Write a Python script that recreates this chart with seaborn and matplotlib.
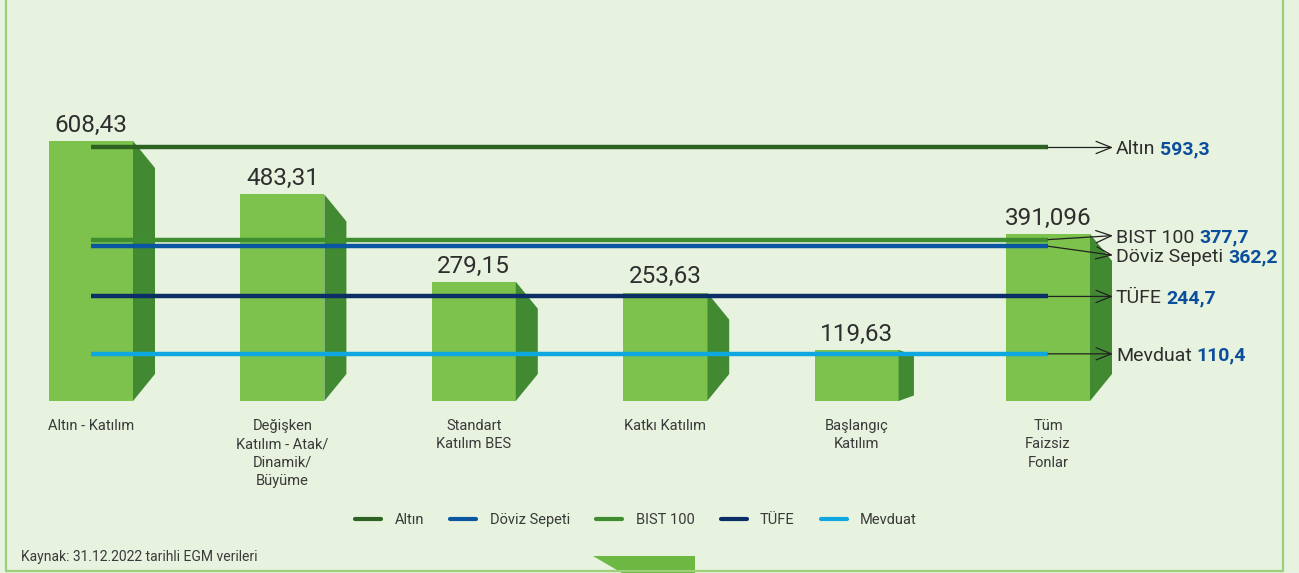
import numpy as np
import pandas as pd
import matplotlib.pyplot as plt
from matplotlib.patches import Polygon
from matplotlib.lines import Line2D
import seaborn as sns

# fon getirileri (31.12.2022)
fonlar = ['Altın - Katılım', 'Değişken\nKatılım - Atak/\nDinamik/\nBüyüme',
          'Standart\nKatılım BES', 'Katkı Katılım', 'Başlangıç\nKatılım',
          'Tüm\nFaizsiz\nFonlar']
getiri = [608.43, 483.31, 279.15, 253.63, 119.63, 391.096]
getiri_txt = ['608,43', '483,31', '279,15', '253,63', '119,63', '391,096']

# karşılaştırma göstergeleri
kiyas = ['Altın', 'Döviz Sepeti', 'BIST 100', 'TÜFE', 'Mevduat']
kiyas_deger = [593.3, 362.2, 377.7, 244.7, 110.4]
kiyas_txt = ['593,3', '362,2', '377,7', '244,7', '110,4']

renk = {'Altın': '#2d6222', 'Döviz Sepeti': '#0b56a0', 'BIST 100': '#3e8e2f',
        'TÜFE': '#0b2e66', 'Mevduat': '#0ea7e0'}
# etiketler üst üste binmesin diye kaydırma (px)
etiket_kay = {'Altın': 0, 'Döviz Sepeti': -9, 'BIST 100': 4, 'TÜFE': 0, 'Mevduat': 0}

bg = '#e7f2df'
on_yuz = '#7cc24d'
yan_yuz = '#428a31'
yazi = '#2e2e2e'
mavi = '#0b4f9c'

sns.set_style('white')
plt.rcParams['font.family'] = ['Roboto', 'DejaVu Sans']

W, H = 1299, 573
base = 401          # bar tabanı (üstten px)
px_x = 191.4        # kategori başına px
px_y = 0.4273       # birim başına px
x0 = 91

fig = plt.figure(figsize=(W / 100, H / 100), dpi=100, facecolor=bg)
ax = fig.add_axes([0, (H - base) / H, 1, base / H])
ax.patch.set_alpha(0)

df = pd.DataFrame({'fon': fonlar, 'getiri': getiri})
sns.barplot(data=df, x='fon', y='getiri', color=on_yuz, saturation=1,
            width=84 / px_x, linewidth=0, ax=ax, zorder=2)

ax.set_xlim(-x0 / px_x, (W - x0) / px_x)
ax.set_ylim(0, base / px_y)

# yan yüzler (3B görünüm)
for bar in ax.patches[:len(getiri)]:
    xr = bar.get_x() + bar.get_width()
    h = bar.get_height()
    hp = h * px_y
    dxp = min(22.0, hp * 0.3)
    dyp = min(27.0, max(5.5, (hp - 45) * 0.5))
    dx, dy = dxp / px_x, dyp / px_y
    ax.add_patch(Polygon([(xr, h), (xr + dx, h - dy), (xr + dx, dy), (xr, 0)],
                         closed=True, facecolor=yan_yuz, edgecolor='none', zorder=2))

for i, (v, t) in enumerate(zip(getiri, getiri_txt)):
    ax.annotate(t, (i, v), xytext=(0, 3), textcoords='offset points',
                ha='center', va='bottom', fontsize=17.5, color=yazi, zorder=6)

# gösterge çizgileri
son = len(getiri) - 1
uc = (1113 - x0) / px_x
for ad, v, t in zip(kiyas, kiyas_deger, kiyas_txt):
    ax.plot([0, son], [v, v], color=renk[ad], lw=3.2, solid_capstyle='butt', zorder=4)
    ye = v + etiket_kay[ad] / px_y
    ax.annotate('', xy=(uc, ye), xytext=(son, v),
                arrowprops=dict(arrowstyle='->,head_length=0.55,head_width=0.22',
                                lw=0.9, color='#222222', mutation_scale=20,
                                shrinkA=0, shrinkB=0), zorder=5)
    t1 = ax.text(uc + 3 / px_x, ye, ad, fontsize=14, color=yazi,
                 va='center_baseline', ha='left', zorder=6)
    ax.annotate(t, xy=(1, 0), xycoords=t1, xytext=(3.5, 0), textcoords='offset points',
                fontsize=14, fontweight='bold', color=mavi, va='bottom', ha='left', zorder=6)

ax.set_xticks(range(len(fonlar)))
ax.set_xticklabels(fonlar, fontsize=10.5, color='#3a3a3a', linespacing=1.4)
ax.tick_params(axis='x', length=0, pad=13)
ax.set_yticks([])
ax.set_xlabel('')
ax.set_ylabel('')
sns.despine(ax=ax, left=True, bottom=True)

# lejant
handles = [Line2D([], [], color=renk[k], lw=3) for k in kiyas]
fig.legend(handles, kiyas, loc='center', bbox_to_anchor=(636 / W, 1 - 520 / H),
           ncol=5, frameon=False, fontsize=10.5, handlelength=1.8,
           handletextpad=0.9, columnspacing=1.8, labelcolor='#3a3a3a')

fig.text(21 / W, 1 - 557 / H, 'Kaynak: 31.12.2022 tarihli EGM verileri',
         fontsize=10, va='center', color='#3a3a3a')

# çerçeve
cer = '#9ccf78'
fig.add_artist(Line2D([6 / W, 6 / W], [1 - 570.5 / H, 1], color=cer, lw=1.6))
fig.add_artist(Line2D([1283 / W, 1283 / W], [1 - 570.5 / H, 1], color=cer, lw=1.6))
fig.add_artist(Line2D([6 / W, 1283 / W], [1 - 570.5 / H, 1 - 570.5 / H], color=cer, lw=1.6))
sek = [(593, 555.5), (695, 555.5), (695, 573), (622, 573)]
fig.add_artist(Polygon([(x / W, 1 - y / H) for x, y in sek], closed=True,
                       facecolor='#6db843', edgecolor='none', transform=fig.transFigure))

fig.savefig('out.png', dpi=100, facecolor=bg)
